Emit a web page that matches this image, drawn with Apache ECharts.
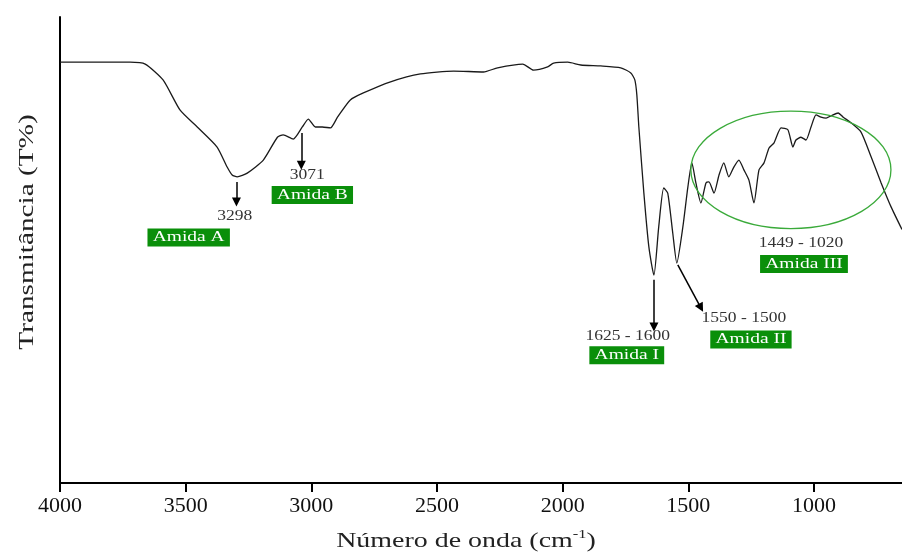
<!DOCTYPE html>
<html>
<head>
<meta charset="utf-8">
<script src="https://cdn.jsdelivr.net/npm/echarts@6/dist/echarts.min.js"></script>
<style>
  html, body { margin: 0; padding: 0; background: #fff; }
  #chart { width: 902px; height: 552px; }
</style>
</head>
<body>
<div id="chart"></div>
<script>
// espectro FTIR (número de onda x transmitância)
const wavenumber = [4000, 3841, 3721, 3661, 3590, 3522, 3454, 3375, 3335, 3315, 3295, 3255, 3191, 3135, 3112, 3072,
  3036, 3012, 2984, 2956, 2924, 2896, 2845, 2793, 2685, 2566, 2434, 2315, 2259, 2159, 2116, 2060, 2036, 1980,
  1928, 1849, 1769, 1729, 1713, 1705, 1697, 1677, 1657, 1637, 1618, 1598, 1582, 1562, 1546, 1522, 1502, 1486,
  1470, 1450, 1430, 1418, 1398, 1378, 1359, 1339, 1319, 1299, 1279, 1259, 1239, 1219, 1199, 1179, 1159, 1131,
  1104, 1084, 1072, 1052, 1032, 1012, 992, 972, 952, 932, 904, 884, 853, 813, 773, 733, 693, 650];
const transmittance = [90.3, 90.3, 90.3, 89.9, 86.5, 80.0, 76.4, 72.1, 67.8, 66.1, 65.7, 66.5, 69.3, 74.2, 74.7, 73.8,
  76.4, 78.1, 76.4, 76.4, 76.2, 78.5, 82.2, 83.7, 86.1, 87.8, 88.4, 88.2, 89.1, 89.9, 88.6, 89.3, 90.1, 90.3,
  89.7, 89.5, 89.1, 88.0, 86.5, 83.3, 76.4, 62.2, 50.6, 44.6, 54.9, 63.3, 62.2, 53.6, 47.2, 54.9, 63.5, 68.7,
  64.4, 60.1, 64.4, 64.6, 62.2, 66.1, 68.7, 65.7, 67.8, 69.3, 67.2, 65.0, 60.1, 67.2, 68.7, 71.9, 73.0, 76.2,
  75.8, 72.1, 73.6, 74.2, 73.6, 76.4, 79.0, 78.5, 78.3, 78.8, 79.4, 78.5, 77.3, 75.3, 70.0, 64.4, 59.2, 54.4];
const xTicks = [4000, 3500, 3000, 2500, 2000, 1500, 1000];

const peakLabels = ['3298', '3071', '1625 - 1600', '1550 - 1500', '1449 - 1020'];
const bandNames = ['Amida A', 'Amida B', 'Amida I', 'Amida II', 'Amida III'];

// posições das anotações em coordenadas dos dados
const labelAnchors = [[3305, 57.3], [3016, 66.1], [1741, 31.5], [1279, 35.4], [1052, 51.5]];
const boxAnchors = [[3488, 52.7], [2996, 61.8], [1745, 27.4], [1251, 30.8], [1040, 47.0]];
const arrows = [
  [[3298, 64.6], [3298, 60.3]],
  [[3040, 75.1], [3040, 68.2]],
  [[1637, 43.6], [1637, 33.5]],
  [[1542, 46.8], [1450, 37.6]]
];
const ellipseCenter = [1092, 67.2];
const ellipseRadius = [398, 12.6];

const serif = "'Liberation Serif', 'Times New Roman', serif";
const green = '#0a8f0a';

let chart = echarts.init(document.getElementById('chart'));

let option = {
  animation: false,
  backgroundColor: '#fff',
  grid: { left: 60, right: 0, top: 17, bottom: 69, outerBoundsMode: 'none' },
  xAxis: {
    type: 'value',
    inverse: true,
    min: 650,
    max: 4000,
    axisLine: { show: true, lineStyle: { color: '#000', width: 2 } },
    axisTick: { show: true, customValues: xTicks, length: 9, inside: false, lineStyle: { color: '#000', width: 2 } },
    axisLabel: {
      customValues: xTicks, formatter: v => String(v),
      fontFamily: serif, fontSize: 22, color: '#111', margin: 12
    },
    splitLine: { show: false }
  },
  yAxis: {
    type: 'value',
    min: 0,
    max: 100,
    axisLine: { show: true, lineStyle: { color: '#000', width: 2 } },
    axisTick: { show: false },
    axisLabel: { show: false },
    splitLine: { show: false }
  },
  series: [{
    type: 'line',
    data: wavenumber.map((w, i) => [w, transmittance[i]]),
    showSymbol: false,
    smooth: 0.2,
    lineStyle: { color: '#1a1a1a', width: 1.3 },
    silent: true,
    markLine: {
      silent: true,
      symbol: ['none', 'triangle'],
      symbolSize: 9,
      label: { show: false },
      lineStyle: { color: '#000', width: 1.5, type: 'solid' },
      data: arrows.map(a => [{ coord: a[0] }, { coord: a[1] }])
    }
  }]
};
chart.setOption(option);

function px(p) {
  return chart.convertToPixel({ gridIndex: 0 }, p);
}

let graphics = [];

// títulos dos eixos
graphics.push({
  type: 'text', x: 27, y: 232, rotation: Math.PI / 2, scaleX: 1.33,
  style: { text: 'Transmitância (T%)', font: '22px ' + serif, fill: '#222', align: 'center', verticalAlign: 'middle' }
});
graphics.push({
  type: 'text', x: 466, y: 541, scaleX: 1.27,
  style: {
    text: '{a|Número de onda (cm}{s|-1}{a|)}',
    align: 'center', verticalAlign: 'middle',
    rich: {
      a: { font: '22px ' + serif, fill: '#222', lineHeight: 26 },
      s: { font: '13px ' + serif, fill: '#222', lineHeight: 26, verticalAlign: 'top', padding: [0, 0, 14, 0] }
    }
  }
});

peakLabels.forEach((t, i) => {
  let p = px(labelAnchors[i]);
  graphics.push({
    type: 'text', x: p[0], y: p[1], scaleX: 1.25,
    style: { text: t, font: '14px ' + serif, fill: '#333', align: 'center', verticalAlign: 'middle' }
  });
});

bandNames.forEach((t, i) => {
  let p = px(boxAnchors[i]);
  graphics.push({
    type: 'text', x: p[0], y: p[1], scaleX: 1.3,
    style: {
      text: t, font: '15px ' + serif, fill: '#fff', align: 'center', verticalAlign: 'middle',
      backgroundColor: green, padding: [2, 4, 1, 4]
    }
  });
});

let c = px(ellipseCenter);
let e = px([ellipseCenter[0] - ellipseRadius[0], ellipseCenter[1] + ellipseRadius[1]]);
graphics.push({
  type: 'ellipse', z: 10,
  shape: { cx: c[0], cy: c[1], rx: Math.abs(e[0] - c[0]), ry: Math.abs(c[1] - e[1]) },
  style: { fill: 'none', stroke: '#3aaa3a', lineWidth: 1.3 }
});

chart.setOption({ graphic: graphics });
</script>
</body>
</html>
